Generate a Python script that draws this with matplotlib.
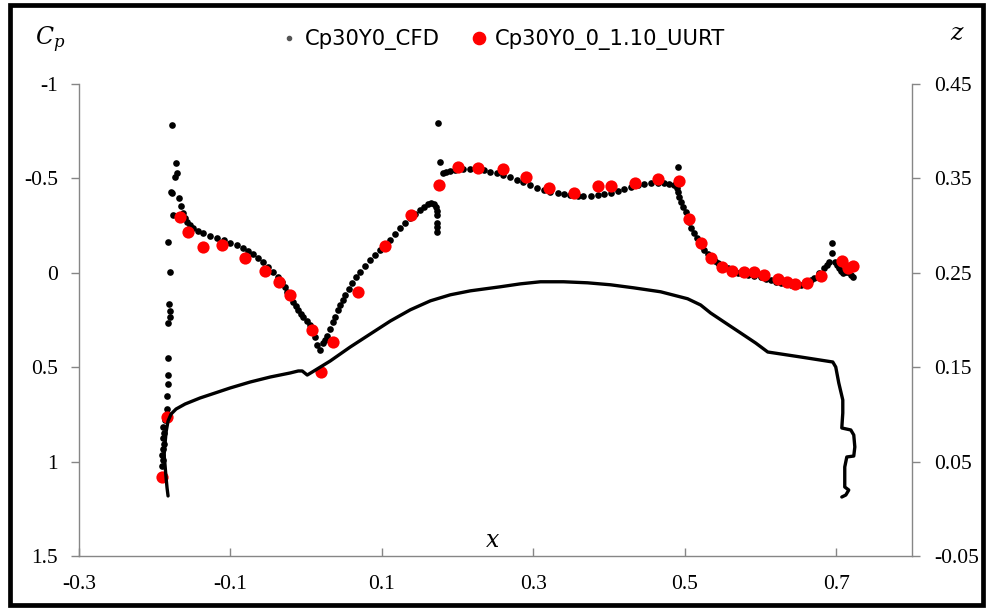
import matplotlib
matplotlib.use("Agg")
import matplotlib.pyplot as plt
from matplotlib.lines import Line2D
from matplotlib.patches import Rectangle
from matplotlib.ticker import FixedLocator, FuncFormatter

# ---- pressure coefficient from CFD (x, Cp) ----
cfd_x = [
    -0.1771, -0.1718, -0.1705, -0.1731, -0.1784, -0.1771, -0.1678, -0.1758,
    -0.1824, -0.1797, -0.1811, -0.1797, -0.1797, -0.1824, -0.1824, -0.1824,
    -0.1824, -0.1837, -0.1837, -0.1863, -0.1890, -0.1876, -0.1890, -0.1876,
    -0.1890, -0.1903, -0.1890, -0.1903,
    -0.1652, -0.1625, -0.1599, -0.1572, -0.1533, -0.1493, -0.1427, -0.1361,
    -0.1268, -0.1176, -0.1083, -0.1004, -0.0911, -0.0832, -0.0766, -0.0700,
    -0.0634, -0.0568, -0.0502, -0.0436, -0.0370, -0.0317, -0.0277, -0.0251,
    -0.0211, -0.0171, -0.0132, -0.0105, -0.0065, -0.0039, 0.0014, 0.0053,
    0.0080, 0.0120, 0.0146, 0.0186, 0.0225, 0.0252, 0.0278, 0.0318,
    0.0358, 0.0384, 0.0424, 0.0450, 0.0490, 0.0516, 0.0569, 0.0609,
    0.0662, 0.0714, 0.0780, 0.0847, 0.0913, 0.0979, 0.1045, 0.1111,
    0.1177, 0.1243, 0.1309, 0.1375, 0.1441, 0.1507, 0.1560, 0.1613,
    0.1653, 0.1693, 0.1719, 0.1732, 0.1732, 0.1732, 0.1732, 0.1732,
    0.1746, 0.1772, 0.1812, 0.1852, 0.1904, 0.1970, 0.2076, 0.2168,
    0.2261, 0.2353, 0.2433, 0.2526, 0.2605, 0.2697, 0.2790, 0.2869,
    0.2962, 0.3054, 0.3134, 0.3226, 0.3319, 0.3398, 0.3490, 0.3583,
    0.3662, 0.3755, 0.3847, 0.3927, 0.4019, 0.4112, 0.4191, 0.4284,
    0.4376, 0.4456, 0.4548, 0.4641, 0.4720, 0.4786, 0.4852, 0.4892,
    0.4905, 0.4905, 0.4918, 0.4944, 0.4971, 0.5010, 0.5050, 0.5076,
    0.5116, 0.5156, 0.5182, 0.5222, 0.5248, 0.5301, 0.5341, 0.5394,
    0.5433, 0.5499, 0.5565, 0.5632, 0.5698, 0.5764, 0.5830, 0.5909,
    0.6002, 0.6068, 0.6134, 0.6200, 0.6266, 0.6332, 0.6398, 0.6464,
    0.6531, 0.6610, 0.6663, 0.6702, 0.6769, 0.6835, 0.6874, 0.6901,
    0.6940, 0.6940, 0.6980, 0.7006, 0.7033, 0.7059, 0.7086, 0.7125,
    0.7152, 0.7192, 0.7218,
]
cfd_cp = [
    -0.783, -0.582, -0.529, -0.507, -0.428, -0.423, -0.396, -0.306,
    -0.163, -0.004, 0.165, 0.202, 0.234, 0.266, 0.451, 0.541,
    0.589, 0.653, 0.721, 0.780, 0.817, 0.849, 0.875, 0.907,
    0.933, 0.965, 0.992, 1.023,
    -0.354, -0.317, -0.290, -0.269, -0.253, -0.237, -0.221, -0.211,
    -0.195, -0.184, -0.174, -0.158, -0.147, -0.131, -0.116, -0.100,
    -0.078, -0.057, -0.031, -0.004, 0.022, 0.049, 0.075, 0.102,
    0.128, 0.155, 0.176, 0.197, 0.218, 0.234, 0.255, 0.277,
    0.292, 0.340, 0.382, 0.409, 0.372, 0.356, 0.335, 0.298,
    0.261, 0.234, 0.197, 0.171, 0.144, 0.118, 0.086, 0.054,
    0.022, -0.004, -0.036, -0.068, -0.094, -0.121, -0.147, -0.174,
    -0.206, -0.237, -0.264, -0.290, -0.311, -0.333, -0.349, -0.364,
    -0.370, -0.364, -0.349, -0.327, -0.306, -0.264, -0.243, -0.216,
    -0.793, -0.587, -0.529, -0.534, -0.539, -0.545, -0.550, -0.550,
    -0.550, -0.545, -0.534, -0.529, -0.518, -0.507, -0.492, -0.481,
    -0.465, -0.449, -0.439, -0.428, -0.423, -0.417, -0.412, -0.407,
    -0.407, -0.407, -0.412, -0.417, -0.423, -0.433, -0.444, -0.454,
    -0.465, -0.470, -0.476, -0.476, -0.476, -0.470, -0.465, -0.449,
    -0.428, -0.560, -0.402, -0.375, -0.349, -0.322, -0.269, -0.237,
    -0.211, -0.184, -0.163, -0.142, -0.121, -0.100, -0.078, -0.063,
    -0.052, -0.036, -0.025, -0.010, 0.001, 0.006, 0.012, 0.017,
    0.022, 0.033, 0.038, 0.049, 0.054, 0.059, 0.065, 0.065,
    0.065, 0.054, 0.038, 0.028, 0.001, -0.025, -0.041, -0.057,
    -0.105, -0.158, -0.057, -0.041, -0.025, -0.010, 0.001, -0.004,
    -0.004, 0.012, 0.022,
]

# ---- pressure coefficient from wind tunnel taps (x, Cp) ----
uurt_x = [
    -0.190, -0.184, -0.166, -0.156, -0.136, -0.111, -0.081, -0.055,
    -0.036, -0.022, 0.008, 0.036, 0.020, 0.069, 0.104, 0.139,
    0.175, 0.201, 0.227, 0.260, 0.290, 0.321, 0.354, 0.386,
    0.403, 0.434, 0.465, 0.492, 0.505, 0.522, 0.535, 0.549,
    0.562, 0.578, 0.591, 0.604, 0.623, 0.635, 0.645, 0.662,
    0.680, 0.707, 0.715, 0.722,
]
uurt_cp = [
    1.082, 0.764, -0.296, -0.216, -0.137, -0.147, -0.078, -0.010,
    0.049, 0.118, 0.303, 0.367, 0.525, 0.102, -0.142, -0.306,
    -0.465, -0.560, -0.555, -0.550, -0.507, -0.449, -0.423, -0.460,
    -0.460, -0.476, -0.497, -0.486, -0.285, -0.158, -0.078, -0.031,
    -0.010, -0.004, -0.004, 0.012, 0.033, 0.049, 0.059, 0.054,
    0.017, -0.063, -0.025, -0.036,
]

# ---- section profile (x, z) ----
geom_x = [
    -0.1824, -0.1837, -0.1850, -0.1863, -0.1876, -0.1863, -0.1850, -0.1824,
    -0.1784, -0.1718, -0.1599, -0.1401, -0.1202, -0.1004, -0.0740, -0.0475,
    -0.0211, -0.0105, -0.0052, 0.0014, 0.0080, 0.0318, 0.0582, 0.0847,
    0.1111, 0.1375, 0.1640, 0.1904, 0.2168, 0.2565, 0.2829, 0.3094,
    0.3398, 0.3715, 0.4019, 0.4323, 0.4680, 0.5037, 0.5209, 0.5341,
    0.5539, 0.5738, 0.5936, 0.6095, 0.6531, 0.6954, 0.6993,
    0.7033, 0.7086, 0.7086, 0.7073, 0.7192, 0.7231, 0.7245, 0.7231,
    0.7139, 0.7112, 0.7112, 0.7165, 0.7126, 0.7073,
]
geom_z = [
    0.0136, 0.0220, 0.0326, 0.0453, 0.0570, 0.0697, 0.0814, 0.0930,
    0.1004, 0.1057, 0.1110, 0.1174, 0.1227, 0.1280, 0.1343, 0.1396,
    0.1439, 0.1460, 0.1460, 0.1417, 0.1449, 0.1566, 0.1714, 0.1852,
    0.1989, 0.2108, 0.2203, 0.2267, 0.2309, 0.2352, 0.2383, 0.2405,
    0.2405, 0.2394, 0.2373, 0.2341, 0.2299, 0.2225, 0.2159, 0.2074,
    0.1968, 0.1862, 0.1756, 0.1661, 0.1608, 0.1555, 0.1502,
    0.1333, 0.1153, 0.1015, 0.0856, 0.0835, 0.0782, 0.0655, 0.0559,
    0.0549, 0.0443, 0.0231, 0.0199, 0.0146, 0.0125,
]

x_ticks = [-0.3, -0.1, 0.1, 0.3, 0.5, 0.7]
cp_ticks = [-1, -0.5, 0, 0.5, 1, 1.5]
z_ticks = [-0.05, 0.05, 0.15, 0.25, 0.35, 0.45]

AXIS_GREY = "#868686"
SERIF = "Liberation Serif"
TICK_SIZE = 15.5

fig = plt.figure(figsize=(9.86, 6.10), dpi=100)
fig.patch.set_facecolor("white")
ax = fig.add_axes([79 / 986, 54 / 610, 833 / 986, 472 / 610])

ax.plot(cfd_x, cfd_cp, linestyle="none", marker="o", markersize=4.8,
        markerfacecolor="black", markeredgecolor="black", markeredgewidth=0,
        zorder=3)
ax.plot(uurt_x, uurt_cp, linestyle="none", marker="o", markersize=8.8,
        markerfacecolor="#ff0000", markeredgecolor="#ff0000", markeredgewidth=0,
        zorder=4)

ax.set_xlim(-0.3, 0.8)
ax.set_ylim(1.5, -1)
ax.xaxis.set_major_locator(FixedLocator(x_ticks))
ax.yaxis.set_major_locator(FixedLocator(cp_ticks))
fmt = FuncFormatter(lambda v, p: f"{v:g}")
ax.xaxis.set_major_formatter(fmt)
ax.yaxis.set_major_formatter(fmt)

ax2 = ax.twinx()
ax2.plot(geom_x, geom_z, color="black", linewidth=2.4, solid_joinstyle="round",
         solid_capstyle="round", zorder=2)
ax2.set_ylim(-0.05, 0.45)
ax2.yaxis.set_major_locator(FixedLocator(z_ticks))
ax2.yaxis.set_major_formatter(FuncFormatter(lambda v, p: f"{v:.2f}"))

for a in (ax, ax2):
    a.spines["top"].set_visible(False)
    for s in ("left", "right", "bottom"):
        a.spines[s].set_color(AXIS_GREY)
        a.spines[s].set_linewidth(1.0)
    a.set_facecolor("none")
ax.spines["right"].set_visible(False)
ax2.spines["left"].set_visible(False)
ax2.spines["bottom"].set_visible(False)

ax.tick_params(axis="x", direction="in", length=6, width=1, color=AXIS_GREY,
               pad=14, labelsize=TICK_SIZE)
ax.tick_params(axis="y", direction="out", length=6, width=1, color=AXIS_GREY,
               pad=9, labelsize=TICK_SIZE)
ax2.tick_params(axis="y", direction="out", length=6, width=1, color=AXIS_GREY,
                pad=10, labelsize=TICK_SIZE)
for lbl in ax.get_xticklabels() + ax.get_yticklabels() + ax2.get_yticklabels():
    lbl.set_fontfamily(SERIF)

plt.rcParams["mathtext.fontset"] = "dejavuserif"
fig.text(50 / 986, 1 - 40 / 610, r"$C_p$", fontsize=17, ha="center", va="center")
fig.text(957 / 986, 1 - 33 / 610, r"$z$", fontsize=17, ha="center", va="center")
fig.text(492 / 986, 1 - 540 / 610, r"$x$", fontsize=17, ha="center", va="center")

handles = [
    Line2D([], [], linestyle="none", marker="o", markersize=3,
           markerfacecolor="#555555", markeredgecolor="#555555"),
    Line2D([], [], linestyle="none", marker="o", markersize=8.8,
           markerfacecolor="#ff0000", markeredgecolor="#ff0000"),
]
fig.legend(handles, ["Cp30Y0_CFD", "Cp30Y0_0_1.10_UURT"], loc="center",
           bbox_to_anchor=(503 / 986, 1 - 40 / 610), ncol=2, frameon=False,
           fontsize=15.2, handlelength=0.7, handletextpad=0.4, columnspacing=1.5)

# outer frame around the whole chart
fig.patches.append(Rectangle((9.5 / 986, 5.5 / 610), 973 / 986, 600 / 610,
                             transform=fig.transFigure, fill=False,
                             edgecolor="black", linewidth=3.4, zorder=10))

fig.savefig("out.png", dpi=100, facecolor="white")
